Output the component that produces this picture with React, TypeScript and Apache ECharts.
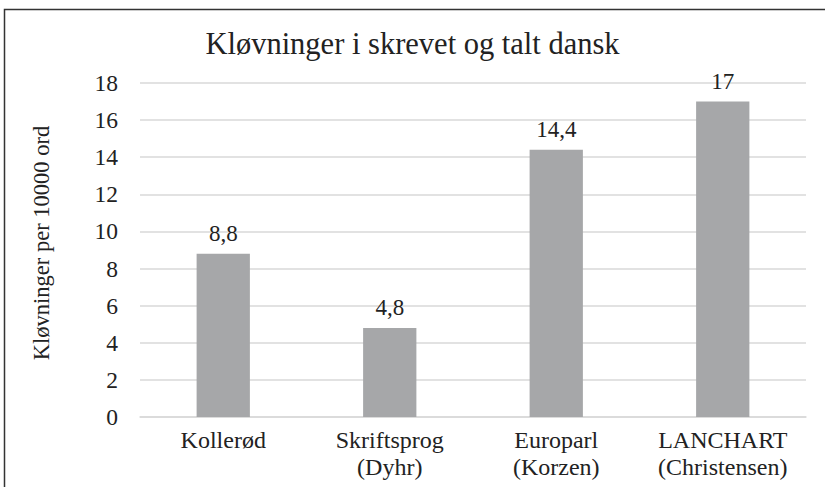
import React, { useEffect, useRef } from "react";
import * as echarts from "echarts";

const categories = ["Kollerød", "Skriftsprog\n(Dyhr)", "Europarl\n(Korzen)", "LANCHART\n(Christensen)"];
const values = [8.8, 4.8, 14.4, 17];
const titleText = "Kløvninger i skrevet og talt dansk";
const yAxisName = "Kløvninger per 10000 ord";

const FONT = "Liberation Serif, DejaVu Serif, serif";
const TEXT = "#222222";

export default function App() {
  const ref = useRef<HTMLDivElement>(null);
  useEffect(() => {
    if (!ref.current) return;
    const chart = echarts.init(ref.current, undefined, { renderer: "svg" });
    chart.setOption({
      animation: false,
      backgroundColor: "#ffffff",
      textStyle: { fontFamily: FONT },
      title: {
        text: titleText,
        left: "center",
        top: 28,
        padding: 0,
        textStyle: { fontFamily: FONT, fontSize: 30.5, fontWeight: "normal", color: TEXT },
      },
      graphic: [
        {
          type: "rect",
          shape: { x: 4.5, y: 9.5, width: 900, height: 600 },
          style: { fill: "none", stroke: "#333333", lineWidth: 1.5 },
          silent: true,
        },
      ],
      grid: { left: 140, right: 19, top: 83, bottom: 70, containLabel: false },
      xAxis: {
        type: "category",
        data: categories,
        axisLine: { show: true, lineStyle: { color: "#d9d9d9", width: 1.5 } },
        axisTick: { show: false },
        axisLabel: {
          fontFamily: FONT,
          fontSize: 24,
          color: TEXT,
          margin: 10,
          lineHeight: 26.5,
          interval: 0,
        },
      },
      yAxis: {
        type: "value",
        min: 0,
        max: 18,
        interval: 2,
        name: yAxisName,
        nameLocation: "middle",
        nameGap: 87,
        nameTextStyle: { fontFamily: FONT, fontSize: 22.5, color: TEXT, padding: [0, 0, 0, 14] },
        axisLine: { show: false },
        axisTick: { show: false },
        splitLine: { lineStyle: { color: "#d9d9d9", width: 1.5 } },
        axisLabel: { fontFamily: FONT, fontSize: 23.5, color: TEXT, margin: 22 },
      },
      series: [
        {
          type: "bar",
          data: values,
          barWidth: "32%",
          itemStyle: { color: "#a6a7a9" },
          label: {
            show: true,
            position: "top",
            distance: 9,
            fontFamily: FONT,
            fontSize: 23,
            color: TEXT,
            formatter: (p: any) => String(p.value).replace(".", ","),
          },
        },
      ],
    });
    return () => chart.dispose();
  }, []);
  return (
    <div
      ref={ref}
      style={{ position: "fixed", left: 0, top: 0, width: 825, height: 487 }}
    />
  );
}
